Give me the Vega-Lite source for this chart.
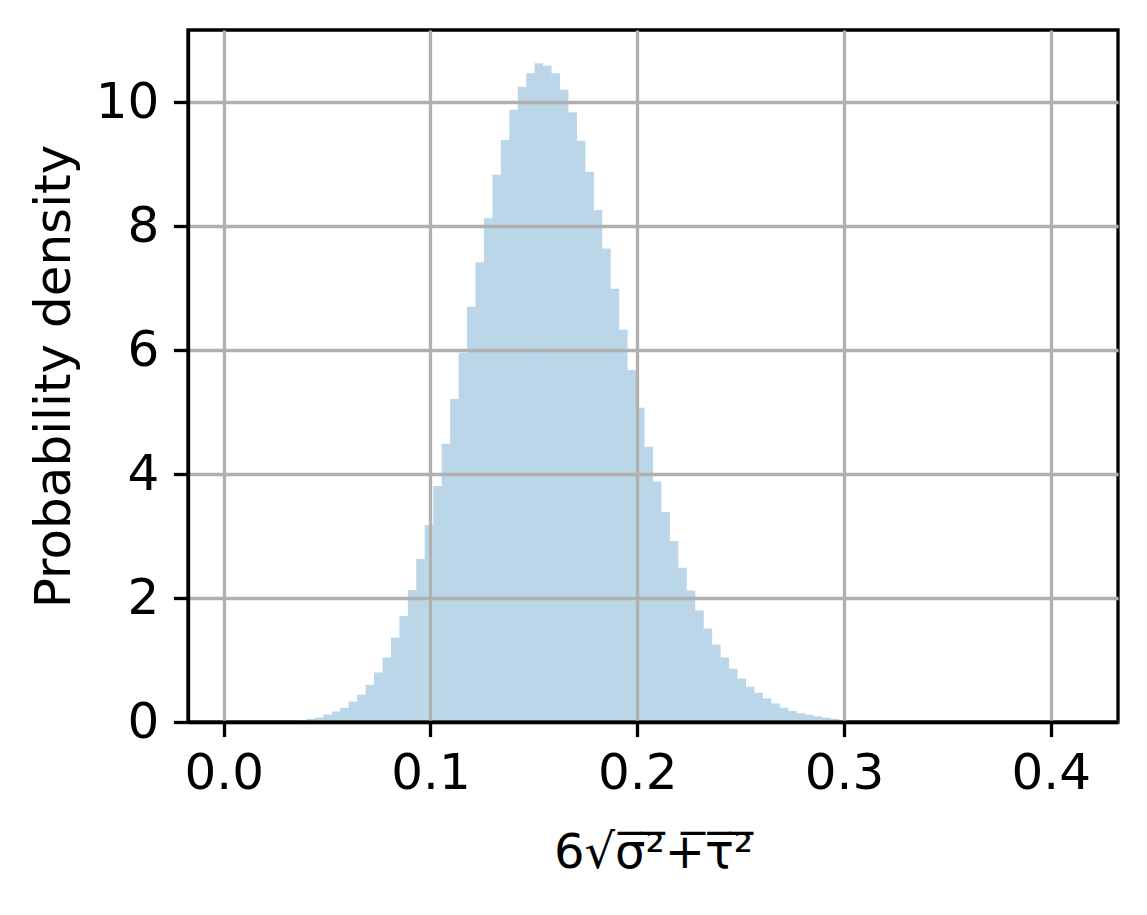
{
  "$schema": "https://vega.github.io/schema/vega-lite/v6.json",
  "width": 930,
  "height": 692,
  "autosize": {"type": "none"},
  "padding": {"left": 188, "top": 30, "right": 29, "bottom": 193},
  "background": "white",
  "data": {"values": [
    {"x0": 0.00318, "x1": 0.00727, "density": 0.0005},
    {"x0": 0.00727, "x1": 0.01136, "density": 0.0005},
    {"x0": 0.01136, "x1": 0.01545, "density": 0.001},
    {"x0": 0.01545, "x1": 0.01954, "density": 0.002},
    {"x0": 0.01954, "x1": 0.02363, "density": 0.003},
    {"x0": 0.02363, "x1": 0.02772, "density": 0.005},
    {"x0": 0.02772, "x1": 0.03181, "density": 0.008},
    {"x0": 0.03181, "x1": 0.03589, "density": 0.015},
    {"x0": 0.03589, "x1": 0.03998, "density": 0.03},
    {"x0": 0.03998, "x1": 0.04407, "density": 0.05},
    {"x0": 0.04407, "x1": 0.04816, "density": 0.07},
    {"x0": 0.04816, "x1": 0.05225, "density": 0.12},
    {"x0": 0.05225, "x1": 0.05634, "density": 0.17},
    {"x0": 0.05634, "x1": 0.06043, "density": 0.23},
    {"x0": 0.06043, "x1": 0.06452, "density": 0.33},
    {"x0": 0.06452, "x1": 0.06861, "density": 0.44},
    {"x0": 0.06861, "x1": 0.07270, "density": 0.60},
    {"x0": 0.07270, "x1": 0.07679, "density": 0.80},
    {"x0": 0.07679, "x1": 0.08088, "density": 1.04},
    {"x0": 0.08088, "x1": 0.08497, "density": 1.36},
    {"x0": 0.08497, "x1": 0.08906, "density": 1.71},
    {"x0": 0.08906, "x1": 0.09314, "density": 2.13},
    {"x0": 0.09314, "x1": 0.09723, "density": 2.63},
    {"x0": 0.09723, "x1": 0.10132, "density": 3.18},
    {"x0": 0.10132, "x1": 0.10541, "density": 3.81},
    {"x0": 0.10541, "x1": 0.10950, "density": 4.49},
    {"x0": 0.10950, "x1": 0.11359, "density": 5.21},
    {"x0": 0.11359, "x1": 0.11768, "density": 5.96},
    {"x0": 0.11768, "x1": 0.12177, "density": 6.70},
    {"x0": 0.12177, "x1": 0.12586, "density": 7.42},
    {"x0": 0.12586, "x1": 0.12995, "density": 8.13},
    {"x0": 0.12995, "x1": 0.13404, "density": 8.83},
    {"x0": 0.13404, "x1": 0.13813, "density": 9.39},
    {"x0": 0.13813, "x1": 0.14222, "density": 9.88},
    {"x0": 0.14222, "x1": 0.14631, "density": 10.25},
    {"x0": 0.14631, "x1": 0.15039, "density": 10.47},
    {"x0": 0.15039, "x1": 0.15448, "density": 10.63},
    {"x0": 0.15448, "x1": 0.15857, "density": 10.59},
    {"x0": 0.15857, "x1": 0.16266, "density": 10.47},
    {"x0": 0.16266, "x1": 0.16675, "density": 10.20},
    {"x0": 0.16675, "x1": 0.17084, "density": 9.84},
    {"x0": 0.17084, "x1": 0.17493, "density": 9.38},
    {"x0": 0.17493, "x1": 0.17902, "density": 8.88},
    {"x0": 0.17902, "x1": 0.18311, "density": 8.26},
    {"x0": 0.18311, "x1": 0.18720, "density": 7.64},
    {"x0": 0.18720, "x1": 0.19129, "density": 6.99},
    {"x0": 0.19129, "x1": 0.19538, "density": 6.33},
    {"x0": 0.19538, "x1": 0.19947, "density": 5.68},
    {"x0": 0.19947, "x1": 0.20356, "density": 5.07},
    {"x0": 0.20356, "x1": 0.20765, "density": 4.44},
    {"x0": 0.20765, "x1": 0.21173, "density": 3.88},
    {"x0": 0.21173, "x1": 0.21582, "density": 3.39},
    {"x0": 0.21582, "x1": 0.21991, "density": 2.92},
    {"x0": 0.21991, "x1": 0.22400, "density": 2.49},
    {"x0": 0.22400, "x1": 0.22809, "density": 2.12},
    {"x0": 0.22809, "x1": 0.23218, "density": 1.80},
    {"x0": 0.23218, "x1": 0.23627, "density": 1.51},
    {"x0": 0.23627, "x1": 0.24036, "density": 1.25},
    {"x0": 0.24036, "x1": 0.24445, "density": 1.04},
    {"x0": 0.24445, "x1": 0.24854, "density": 0.86},
    {"x0": 0.24854, "x1": 0.25263, "density": 0.70},
    {"x0": 0.25263, "x1": 0.25672, "density": 0.57},
    {"x0": 0.25672, "x1": 0.26081, "density": 0.47},
    {"x0": 0.26081, "x1": 0.26490, "density": 0.38},
    {"x0": 0.26490, "x1": 0.26898, "density": 0.30},
    {"x0": 0.26898, "x1": 0.27307, "density": 0.23},
    {"x0": 0.27307, "x1": 0.27716, "density": 0.18},
    {"x0": 0.27716, "x1": 0.28125, "density": 0.14},
    {"x0": 0.28125, "x1": 0.28534, "density": 0.12},
    {"x0": 0.28534, "x1": 0.28943, "density": 0.09},
    {"x0": 0.28943, "x1": 0.29352, "density": 0.07},
    {"x0": 0.29352, "x1": 0.29761, "density": 0.05},
    {"x0": 0.29761, "x1": 0.30170, "density": 0.035},
    {"x0": 0.30170, "x1": 0.30579, "density": 0.02},
    {"x0": 0.30579, "x1": 0.30988, "density": 0.012},
    {"x0": 0.30988, "x1": 0.31397, "density": 0.008},
    {"x0": 0.31397, "x1": 0.31806, "density": 0.005},
    {"x0": 0.31806, "x1": 0.32215, "density": 0.003},
    {"x0": 0.32215, "x1": 0.32623, "density": 0.002},
    {"x0": 0.32623, "x1": 0.33032, "density": 0.001},
    {"x0": 0.33032, "x1": 0.33441, "density": 0.0007}
  ]},
  "mark": {"type": "bar", "fill": "#1f77b4", "fillOpacity": 0.3, "strokeWidth": 0, "orient": "vertical"},
  "encoding": {
    "x": {
      "field": "x0", "type": "quantitative",
      "scale": {"domain": [-0.01727, 0.43255], "nice": false, "zero": false, "padding": 0},
      "axis": {
        "values": [0, 0.1, 0.2, 0.3, 0.4], "format": ".1f",
        "title": "6\u221a\u03c3\u0305\u00b2\u0305+\u0305\u03c4\u0305\u00b2\u0305",
        "titleFontSize": 48, "titlePadding": 31,
        "labelPadding": 12, "zindex": 1
      }
    },
    "x2": {"field": "x1"},
    "y": {
      "field": "density", "type": "quantitative",
      "scale": {"domain": [0, 11.166], "nice": false, "padding": 0},
      "axis": {
        "values": [0, 2, 4, 6, 8, 10], "format": "d",
        "title": "Probability density",
        "titleFontSize": 50, "titlePadding": 16,
        "labelPadding": 14.6, "zindex": 1
      }
    },
    "y2": {"datum": 0}
  },
  "config": {
    "font": "DejaVu Sans",
    "view": {"stroke": "black", "strokeWidth": 3.3},
    "axis": {
      "zindex": 1,
      "labelFont": "DejaVu Sans", "labelFontSize": 50, "labelColor": "black",
      "titleFont": "DejaVu Sans", "titleFontWeight": "normal", "titleColor": "black",
      "tickSize": 14.6, "tickWidth": 3.3, "tickColor": "black",
      "domainColor": "black", "domainWidth": 3.3,
      "grid": true, "gridColor": "#b0b0b0", "gridWidth": 3.3, "gridOpacity": 1,
      "labelFlush": false, "labelOverlap": false
    }
  }
}
